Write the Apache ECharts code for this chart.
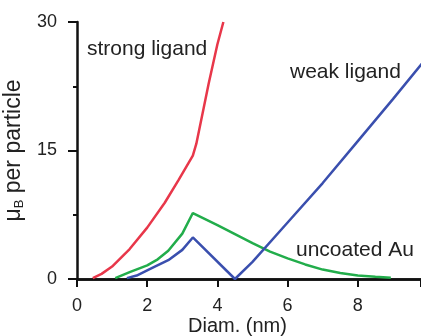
<!DOCTYPE html>
<html>
<head>
<meta charset="utf-8">
<script src="https://cdn.jsdelivr.net/npm/echarts@6/dist/echarts.min.js"></script>
<style>
	html, body { margin: 0; padding: 0; background: #fff; }
	#chart { width: 421px; height: 336px; }
</style>
</head>
<body>
<div id="chart"></div>
<script>
// data: [diameter nm, muB per particle]
var strongLigand = [[0.45,0.1],[0.7,0.6],[1.0,1.45],[1.5,3.5],[2.0,6.0],[2.5,8.9],[2.9,11.6],[3.3,14.4],[3.4,15.8],[3.6,19.8],[3.75,22.8],[4.0,27.4],[4.17,30]];
var uncoatedAu = [[1.09,0.1],[1.5,0.8],[2.0,1.6],[2.3,2.3],[2.6,3.3],[3.0,5.3],[3.3,7.7],[4.0,6.3],[5.0,4.2],[5.5,3.2],[6.0,2.4],[6.5,1.7],[7.0,1.1],[7.5,0.7],[8.0,0.4],[8.5,0.25],[8.94,0.15]];
var weakLigand = [[1.42,0.1],[1.7,0.4],[2.1,1.2],[2.6,2.2],[3.0,3.4],[3.3,4.85],[4.5,0],[5.0,2.0],[6.0,6.6],[7.0,11.2],[8.0,16.1],[9.0,21.0],[10.0,26.0]];
var xTicks = [0, 2, 4, 6, 8];
var yTicks = [0, 15, 30];

var myChart = echarts.init(document.getElementById('chart'));
var font = 'Liberation Sans';

function lineSeries(name, data, color) {
	return {
		name: name,
		type: 'line',
		data: data,
		symbol: 'none',
		clip: true,
		lineStyle: { color: color, width: 2.5 },
		z: 3
	};
}

// the figure is cut off at the right, so the axis stops at the edge
var option = {
	animation: false,
	grid: { left: 77, top: 22, bottom: 57, right: 0, outerBoundsMode: 'none', containLabel: false },
	xAxis: [{
		type: 'value', min: 0, max: 9.8, interval: 2,
		axisLine: { show: true, onZero: false, lineStyle: { color: '#111', width: 2.5 } },
		axisTick: { show: true, length: 8, lineStyle: { color: '#111', width: 2 } },
		axisLabel: {
			margin: 18, color: '#222', fontSize: 18, fontFamily: font,
			formatter: function(v) { return xTicks.indexOf(v) >= 0 ? String(v) : ''; }
		},
		splitLine: { show: false }
	}, {
		// top frame line
		type: 'value', position: 'top', min: 0, max: 9.8,
		axisLine: { show: true, lineStyle: { color: '#111', width: 2.5 } },
		axisTick: { show: false },
		axisLabel: { show: false },
		splitLine: { show: false }
	}],
	yAxis: {
		type: 'value', min: 0, max: 30, interval: 15,
		name: '{a|μ}{b|B}{a| per particle}',
		nameLocation: 'middle', nameGap: 44,
		nameTextStyle: {
			rich: {
				a: { fontSize: 23, fontFamily: font, color: '#222' },
				b: { fontSize: 13, fontFamily: font, color: '#222', padding: [12, 0, 0, 0] }
			}
		},
		axisLine: { show: true, lineStyle: { color: '#111', width: 2.5 } },
		axisTick: { show: true, length: 9, lineStyle: { color: '#111', width: 2 } },
		minorTick: { show: true, splitNumber: 2, length: 4, lineStyle: { color: '#111', width: 2 } },
		axisLabel: {
			margin: 20, color: '#222', fontSize: 18, fontFamily: font,
			formatter: function(v) { return yTicks.indexOf(v) >= 0 ? String(v) : ''; }
		},
		splitLine: { show: false },
		minorSplitLine: { show: false }
	},
	graphic: [
		{ type: 'text', left: 87, top: 39, style: { text: 'strong ligand', font: '21px ' + font, fill: '#222' } },
		{ type: 'text', left: 290, top: 62, style: { text: 'weak ligand', font: '21px ' + font, fill: '#222' } },
		{ type: 'text', left: 296, top: 240, style: { text: 'uncoated Au', font: '21px ' + font, fill: '#222' } },
		{ type: 'text', left: 188, top: 316, style: { text: 'Diam. (nm)', font: '20px ' + font, fill: '#222' } }
	],
	series: [
		lineSeries('strong ligand', strongLigand, '#e8374a'),
		lineSeries('uncoated Au', uncoatedAu, '#22ad4b'),
		lineSeries('weak ligand', weakLigand, '#3a4fae')
	]
};
myChart.setOption(option);
</script>
</body>
</html>
